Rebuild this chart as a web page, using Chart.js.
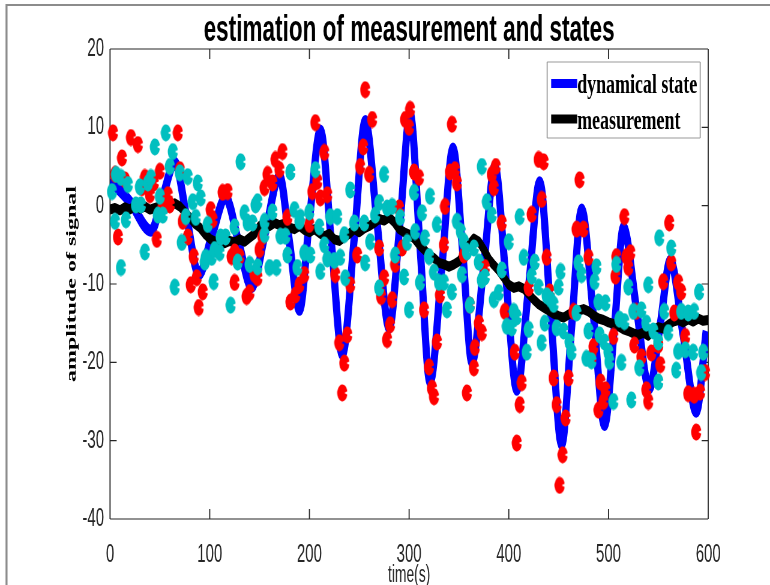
<!DOCTYPE html>
<html>
<head>
<meta charset="utf-8">
<script src="https://cdn.jsdelivr.net/npm/chart.js@4.4.0/dist/chart.umd.min.js"></script>
<style>
html, body { margin: 0; padding: 0; background: #fff; }
canvas { display: block; }
</style>
</head>
<body>
<canvas id="grafica" width="1283" height="585" style="width:770px;height:585px"></canvas>
<script>
// the original figure is squeezed sideways, so the chart is drawn wide and shown at 770px
const SQ = 0.6;

const chartTitle = 'estimation of measurement and states';
const xTitle = 'time(s)';
const yTitle = 'amplitude of signal';
const xTicks = [0, 100, 200, 300, 400, 500, 600];
const yTicks = [-40, -30, -20, -10, 0, 10, 20];

// dynamical state (blue)
const blueTime = [0, 20, 41, 53, 65, 77, 89, 102, 116, 129, 142, 156, 170, 180, 190, 200, 211, 222, 233, 245,
  256, 268, 280, 291, 301, 311, 321, 333, 344, 354, 363, 375, 386, 397, 408, 420, 431, 442, 453, 463,
  473, 485, 496, 506, 515, 528, 541, 552, 562, 575, 588, 598];
const blueValue = [3.2, 0.5, -3.2, 1.2, 5.5, -1.6, -8.8, -3.9, 1.0, -4.7, -10.4, -3.3, 3.8, -4.7, -13.3, -1.8, 9.6, -4.7, -19.0, -4.1,
  10.8, -2.4, -15.6, -2.0, 11.7, -5.4, -22.5, -7.6, 7.3, -6.3, -20.0, -7.5, 5.0, -9.2, -23.5, -10.2, 3.0, -13.7, -30.5, -15.5,
  -0.5, -14.2, -28.0, -15.4, -2.8, -13.1, -23.3, -15.1, -7.0, -16.6, -26.3, -16.0];

// measurement (black)
const blackTime = [0, 5, 10, 15, 20, 25, 30, 35, 40, 45, 50, 55, 60, 65, 70, 75, 80, 85, 90, 95,
  100, 105, 110, 115, 120, 125, 130, 135, 140, 145, 150, 155, 160, 165, 170, 175, 180, 185, 190, 195,
  200, 205, 210, 215, 220, 225, 230, 235, 240, 245, 250, 255, 260, 265, 270, 275, 280, 285, 290, 295,
  300, 305, 310, 315, 320, 325, 330, 335, 340, 345, 350, 355, 360, 365, 370, 375, 380, 385, 390, 395,
  400, 405, 410, 415, 420, 425, 430, 435, 440, 445, 450, 455, 460, 465, 470, 475, 480, 485, 490, 495,
  500, 505, 510, 515, 520, 525, 530, 535, 540, 545, 550, 555, 560, 565, 570, 575, 580, 585, 590, 595, 600];
const blackValue = [-0.5, -0.3, -0.6, -0.2, -0.5, 0.0, -0.4, -0.1, -0.5, -0.3, -0.1, -0.4, 0.0, 0.3, -0.1, -0.8, -1.5, -2.3, -2.8, -3.6,
  -4.2, -4.6, -4.4, -4.8, -4.5, -4.7, -4.3, -4.6, -4.1, -3.6, -2.6, -2.3, -2.6, -2.2, -2.5, -2.3, -2.8, -3.0, -2.6, -3.1,
  -3.4, -3.0, -3.5, -3.9, -3.6, -4.3, -4.5, -4.0, -3.6, -3.0, -3.4, -2.9, -2.6, -2.2, -1.7, -1.9, -1.5, -2.1, -3.0, -3.4,
  -3.7, -4.2, -5.0, -5.6, -6.3, -6.7, -7.3, -7.5, -7.8, -7.5, -7.1, -6.2, -5.0, -4.2, -4.6, -5.6, -6.8, -7.6, -8.3, -9.2,
  -10.1, -10.5, -10.3, -10.6, -11.3, -12.0, -12.6, -13.0, -13.4, -13.8, -14.1, -14.3, -13.9, -13.6, -13.4, -13.2, -13.5, -14.0, -14.4, -14.6,
  -14.9, -15.1, -15.4, -15.8, -16.0, -16.3, -16.5, -16.2, -16.6, -15.9, -15.5, -15.7, -15.2, -14.8, -14.6, -14.9, -14.5, -14.8, -14.4, -14.7, -14.6];

// red dots
const redTime = [3, 5, 8, 12, 15, 21, 28, 32, 35, 40, 44, 47, 50, 53, 58, 60, 68, 70, 73, 78,
  81, 84, 87, 89, 93, 101, 103, 113, 118, 122, 125, 125, 130, 137, 140, 145, 148, 150, 153, 155,
  158, 163, 166, 170, 173, 178, 181, 186, 190, 195, 200, 203, 206, 208, 211, 215, 218, 226, 230, 233,
  235, 238, 241, 248, 251, 254, 256, 260, 263, 270, 271, 272, 275, 278, 281, 283, 286, 290, 293, 296,
  300, 301, 305, 310, 315, 320, 323, 325, 328, 331, 335, 336, 341, 343, 346, 348, 355, 358, 361, 365,
  366, 370, 373, 376, 383, 385, 387, 393, 396, 406, 408, 411, 413, 420, 423, 430, 433, 435, 438, 441,
  445, 448, 451, 454, 457, 460, 465, 468, 471, 475, 480, 483, 485, 490, 492, 495, 497, 505, 507, 508,
  516, 518, 520, 522, 526, 528, 533, 538, 540, 543, 550, 552, 555, 561, 563, 566, 570, 573, 577, 580,
  586, 588, 592, 597];
const redValue = [9.3, 4.0, -4.0, 6.1, 3.3, 8.7, 7.8, 2.3, 3.6, 1.4, 2.9, -4.3, 4.4, -0.1, 1.4, 0.1, 9.3, 4.6, -2.0, -4.0,
  -10.1, -6.5, -9.2, -13.0, -11.0, -0.5, -1.8, 1.7, 1.8, -6.5, -9.8, -5.9, -6.5, -11.6, -11.1, -8.8, -9.2, -5.6, -4.0, 2.3,
  4.0, 2.9, 5.9, 4.6, 6.9, -1.5, -12.3, -11.4, -10.1, -8.8, -2.4, 1.8, 10.6, 3.1, 1.0, 6.8, 1.4, -8.8, -17.5, -23.9,
  -20.1, -16.5, -10.1, -6.3, 5.0, 7.5, 14.8, 4.0, 11.0, -5.4, -10.5, -11.6, -9.2, -17.1, -15.2, -12.0, -7.5, -0.3, -5.4, 11.0,
  10.0, 12.3, 4.3, 3.6, -13.3, -20.6, -23.3, -24.4, -17.4, -11.4, -5.0, -0.1, 4.3, 10.4, 4.6, 2.9, -6.3, -23.9, -12.7, -20.7,
  -18.1, -15.0, -16.2, -7.9, 4.0, 2.3, 5.0, -2.2, -13.5, -18.7, -30.3, -25.4, -22.6, -10.5, -1.1, 5.9, 0.8, 5.6, -6.6, -11.0,
  -22.0, -25.4, -35.7, -31.8, -27.1, -22.0, -13.5, -3.0, 3.3, -3.0, -6.6, -19.4, -18.0, -26.1, -22.5, -25.0, -23.5, -16.7, -9.0, -6.5,
  -1.4, -6.5, -7.9, -6.0, -17.8, -13.5, -19.3, -23.5, -25.0, -18.8, -17.8, -20.3, -9.7, -2.2, -7.3, -13.7, -9.8, -11.0, -16.7, -24.0,
  -24.2, -28.9, -23.8, -21.3];

// cyan dots
const cyanTime = [2, 5, 6, 11, 11, 16, 18, 26, 30, 31, 35, 38, 41, 45, 48, 50, 53, 56, 60, 63,
  65, 70, 72, 76, 78, 83, 86, 88, 91, 95, 96, 98, 102, 104, 105, 110, 111, 116, 121, 125,
  128, 131, 135, 138, 140, 143, 146, 148, 148, 155, 155, 160, 163, 167, 171, 176, 178, 181, 185, 188,
  190, 191, 195, 200, 201, 206, 210, 211, 215, 218, 221, 225, 228, 231, 235, 236, 241, 245, 255, 256,
  261, 266, 270, 270, 275, 278, 283, 286, 291, 295, 298, 300, 305, 306, 311, 313, 316, 320, 321, 325,
  328, 330, 335, 338, 343, 348, 352, 353, 355, 358, 361, 365, 370, 373, 373, 376, 378, 383, 385, 390,
  393, 398, 400, 403, 405, 408, 411, 415, 418, 420, 423, 426, 430, 433, 436, 438, 442, 445, 448, 450,
  452, 455, 461, 463, 468, 470, 473, 478, 480, 483, 486, 488, 490, 491, 496, 497, 500, 501, 505, 508,
  511, 513, 516, 520, 523, 525, 531, 533, 538, 540, 545, 550, 550, 551, 556, 560, 563, 568, 570, 573,
  577, 580, 585, 586, 591, 593, 595];
const cyanValue = [1.8, -2.0, 4.0, 3.6, -7.9, -1.8, 2.7, 0.1, 2.4, 0.1, -5.9, 2.9, 3.6, 7.5, -1.2, 1.2, -1.2, 9.3, 5.0, 6.9,
  -10.4, 4.2, -4.7, -1.4, 3.7, 0.5, -1.5, 2.9, 1.0, -7.2, -6.6, -2.4, -6.6, -9.7, -5.6, -6.0, -4.0, -4.0, -12.7, -2.7,
  -7.2, 5.6, -0.9, -2.2, -7.5, -2.2, 0.1, -7.8, 0.5, -2.0, -3.7, -7.9, -0.8, -7.9, -3.9, -3.9, -6.3, 4.3, -0.5, -7.9,
  -2.0, -1.5, -6.0, -0.8, -6.3, 4.6, -2.7, -8.4, -5.0, -6.8, -1.4, -7.0, -1.4, -6.6, -3.7, -9.2, 2.0, -2.2, -2.2, -7.3,
  -4.6, -1.2, 0.4, -10.5, 4.0, -0.3, -0.1, -6.3, -1.5, -9.1, -4.7, -13.3, 1.7, -3.3, -9.8, -0.9, -4.1, -6.5, 1.2, -8.5,
  -2.4, -9.8, -9.8, -13.3, -11.0, -2.0, -3.3, -8.8, -4.6, -5.9, -12.7, -5.4, -7.2, 5.0, -9.5, -9.1, 0.5, -1.2, -12.0, -11.1,
  -8.2, -15.4, -4.6, -15.6, -13.5, -14.2, -1.4, -6.6, -18.7, -15.8, -9.0, -7.2, -10.4, -17.5, -15.0, -11.5, -12.0, -12.6, -15.6, -10.4,
  -8.4, -16.0, -17.4, -18.7, -13.7, -7.3, -8.8, -19.5, -16.0, -19.8, -9.7, -7.8, -12.3, -16.5, -17.4, -12.4, -18.7, -19.9, -25.0, -7.5,
  -14.5, -20.0, -14.8, -10.4, -24.8, -13.5, -20.7, -13.3, -15.0, -10.1, -16.0, -17.4, -22.5, -4.1, -13.5, -16.2, -5.4, -21.0, -18.6, -13.5,
  -18.4, -13.7, -18.7, -13.5, -11.0, -21.3, -18.7];

const pts = (t, v) => t.map((x, i) => ({x: x, y: v[i]}));

// round marker with the small notch the original renderer leaves on it
function notchedDot(color) {
  const c = document.createElement('canvas');
  c.width = 18;
  c.height = 18;
  const g = c.getContext('2d');
  g.fillStyle = color;
  g.beginPath();
  g.moveTo(12.5, 9);
  g.arc(9, 9, 8.5, 0.2, Math.PI * 2 - 0.2);
  g.closePath();
  g.fill();
  return c;
}

function fitText(ctx, text, x, y, k, align) {
  ctx.save();
  ctx.translate(x, y);
  ctx.scale(k, 1);
  ctx.textAlign = align;
  ctx.fillText(text, 0, 0);
  ctx.restore();
}

const decor = {
  id: 'decor',
  beforeDraw(chart) {
    const ctx = chart.ctx;
    ctx.save();
    ctx.fillStyle = '#fff';
    ctx.fillRect(0, 0, chart.width, chart.height);
    ctx.strokeStyle = '#8c8c8c';
    ctx.lineWidth = 2;
    ctx.beginPath();
    ctx.moveTo(6 / SQ, 5);
    ctx.lineTo(chart.width, 5);
    ctx.stroke();
    ctx.lineWidth = 2 / SQ;
    ctx.beginPath();
    ctx.moveTo(6.5 / SQ, 4);
    ctx.lineTo(6.5 / SQ, chart.height);
    ctx.stroke();
    ctx.restore();
  },
  beforeDatasetsDraw(chart) {
    const {ctx, chartArea: a, scales: {x, y}} = chart;
    ctx.save();
    ctx.strokeStyle = '#262626';
    ctx.lineWidth = 1.2;
    ctx.beginPath();
    ctx.moveTo(a.left, a.top);
    ctx.lineTo(a.right, a.top);
    ctx.moveTo(a.left, a.bottom);
    ctx.lineTo(a.right, a.bottom);
    y.ticks.forEach(t => {
      const p = y.getPixelForValue(t.value);
      ctx.moveTo(a.left, p);
      ctx.lineTo(a.left + 11, p);
      ctx.moveTo(a.right, p);
      ctx.lineTo(a.right - 11, p);
    });
    ctx.stroke();
    ctx.lineWidth = 1.8;
    ctx.beginPath();
    ctx.moveTo(a.left, a.top);
    ctx.lineTo(a.left, a.bottom);
    ctx.moveTo(a.right, a.top);
    ctx.lineTo(a.right, a.bottom);
    x.ticks.forEach(t => {
      const p = x.getPixelForValue(t.value);
      ctx.moveTo(p, a.bottom);
      ctx.lineTo(p, a.bottom - 10);
      ctx.moveTo(p, a.top);
      ctx.lineTo(p, a.top + 10);
    });
    ctx.stroke();
    ctx.restore();
  },
  afterDraw(chart) {
    const {ctx, chartArea: a} = chart;
    ctx.save();
    // title
    ctx.fillStyle = '#000';
    ctx.font = 'bold 36px "Liberation Sans"';
    ctx.textBaseline = 'alphabetic';
    const tw = ctx.measureText(chartTitle).width;
    fitText(ctx, chartTitle, (a.left + a.right) / 2, 41, (411 / SQ) / tw, 'center');

    // legend
    const l = 547 / SQ, r = 700 / SQ, t = 62, b = 138;
    ctx.fillStyle = '#fff';
    ctx.fillRect(l, t, r - l, b - t);
    ctx.strokeStyle = '#9a9a9a';
    ctx.lineWidth = 1.2;
    ctx.beginPath();
    ctx.moveTo(l, t); ctx.lineTo(r, t);
    ctx.moveTo(l, b); ctx.lineTo(r, b);
    ctx.stroke();
    ctx.lineWidth = 1.8;
    ctx.beginPath();
    ctx.moveTo(l, t); ctx.lineTo(l, b);
    ctx.moveTo(r, t); ctx.lineTo(r, b);
    ctx.stroke();

    ctx.font = 'bold 27px "Liberation Serif"';
    const items = chart.data.datasets.filter(d => d.inLegend);
    const k = (120 / SQ) / ctx.measureText(items[0].label).width;
    items.forEach((d, i) => {
      const cy = 83.5 + i * 35.5;
      ctx.fillStyle = d.borderColor;
      ctx.fillRect(551 / SQ, cy - 4.5, 26 / SQ, 9);
      ctx.fillStyle = '#000';
      fitText(ctx, d.label, 577 / SQ, cy + 9.5, k, 'left');
    });
    ctx.restore();
  }
};

const graph = document.querySelector('#grafica');

const data = {
  datasets: [
    {
      label: 'dynamical state',
      inLegend: true,
      data: pts(blueTime, blueValue),
      showLine: true,
      borderColor: '#0000ff',
      borderWidth: 12,
      pointRadius: 0,
      cubicInterpolationMode: 'monotone',
      order: 4
    },
    {
      label: 'measurement',
      inLegend: true,
      data: pts(blackTime, blackValue),
      showLine: true,
      borderColor: '#000000',
      borderWidth: 10,
      borderJoinStyle: 'round',
      pointRadius: 0,
      order: 3
    },
    {
      label: 'red',
      data: pts(redTime, redValue),
      pointStyle: notchedDot('#ff0000'),
      pointRadius: 9,
      clip: false,
      order: 2
    },
    {
      label: 'cyan',
      data: pts(cyanTime, cyanValue),
      pointStyle: notchedDot('#00bfbf'),
      pointRadius: 9,
      clip: false,
      order: 1
    }
  ]
};

const tickFont = {family: '"Liberation Sans"', size: 25};

const config = {
  type: 'scatter',
  data: data,
  options: {
    responsive: false,
    animation: false,
    devicePixelRatio: 1,
    events: [],
    layout: {padding: {left: 0, right: 1283 - 708 / SQ, top: 49, bottom: 0}},
    plugins: {legend: {display: false}, tooltip: {enabled: false}, title: {display: false}},
    scales: {
      x: {
        type: 'linear',
        min: 0,
        max: 600,
        afterBuildTicks: s => { s.ticks = xTicks.map(v => ({value: v})); },
        afterFit: s => { s.height = 66; },
        grid: {display: false, drawTicks: false},
        border: {display: false},
        ticks: {padding: 21, font: tickFont, color: '#262626', maxRotation: 0},
        title: {display: true, text: xTitle, color: '#262626',
          font: {family: '"Liberation Sans"', size: 23, lineHeight: 0.85}, padding: {top: 0, bottom: 0}}
      },
      y: {
        type: 'linear',
        min: -40,
        max: 20,
        afterBuildTicks: s => { s.ticks = yTicks.map(v => ({value: v})); },
        afterFit: s => { s.width = 110 / SQ; },
        grid: {display: false, drawTicks: false},
        border: {display: false},
        ticks: {padding: 10, font: tickFont, color: '#262626'},
        title: {display: true, text: yTitle, color: '#000',
          font: {family: '"Liberation Serif"', size: 24, weight: 'bold', lineHeight: 1}, padding: {top: 108, bottom: 0}}
      }
    }
  },
  plugins: [decor]
};

new Chart(graph, config);
</script>
</body>
</html>
